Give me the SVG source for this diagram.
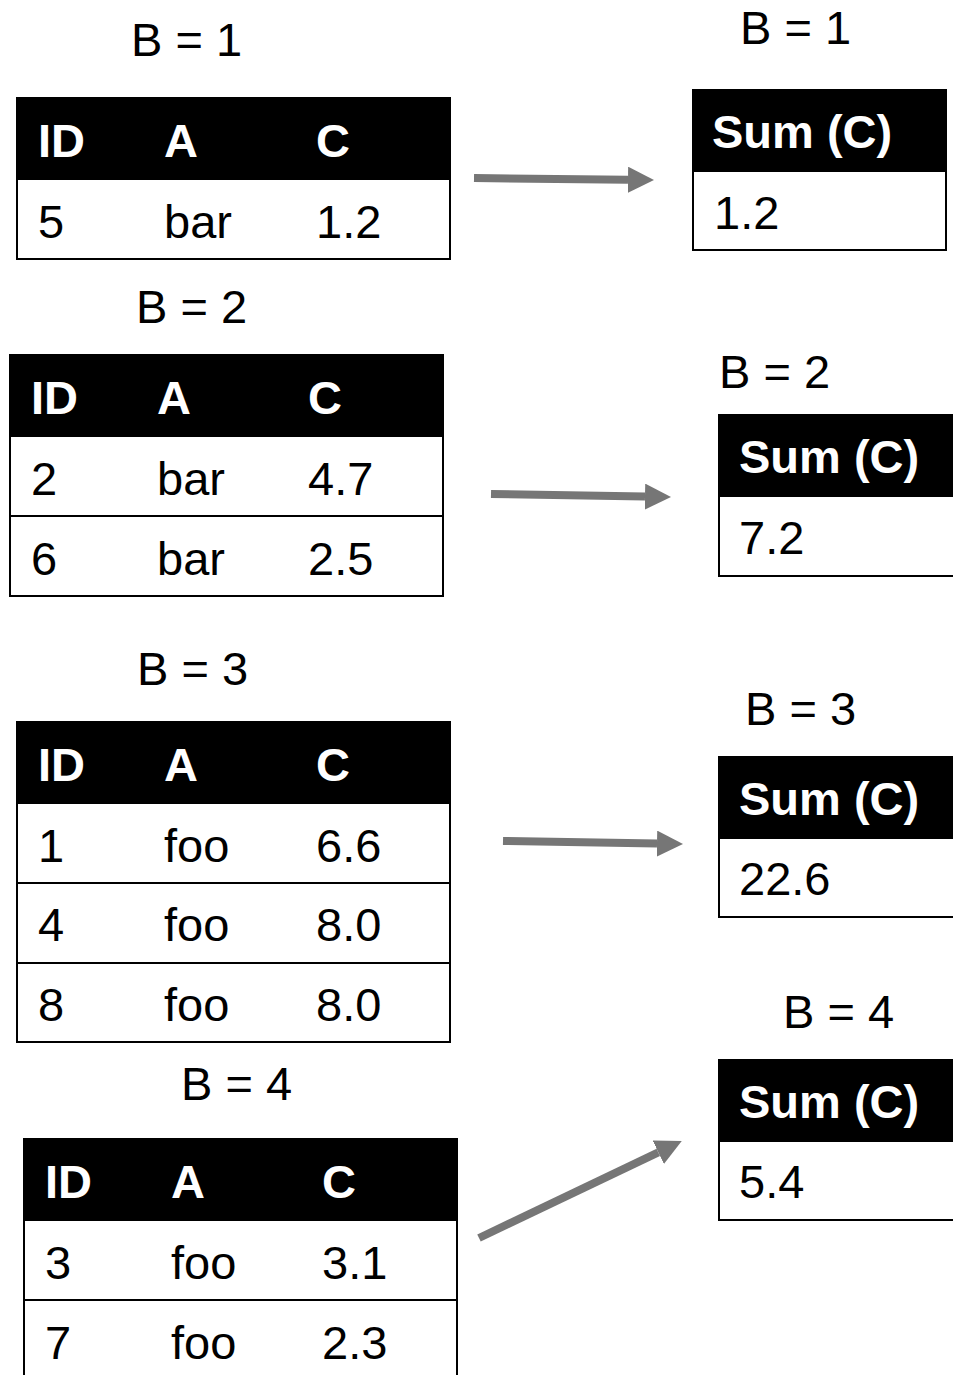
<svg xmlns="http://www.w3.org/2000/svg" width="953" height="1375" viewBox="0 0 953 1375">
<style>
.lbl{font-family:"Liberation Sans",Arial,sans-serif;font-size:47px;fill:#000}
.hd{font-family:"Liberation Sans",Arial,sans-serif;font-size:47px;font-weight:bold;fill:#fff}
.cell{font-family:"Liberation Sans",Arial,sans-serif;font-size:47px;fill:#000}
.frame{fill:#fff;stroke:#000;stroke-width:2}
.head{fill:#000}
.sep{stroke:#000;stroke-width:2}
.arrow{stroke:#767676;stroke-width:8;fill:none;marker-end:url(#ah)}
</style>
<defs>
<marker id="ah" markerUnits="userSpaceOnUse" markerWidth="26" markerHeight="26" viewBox="0 0 24 24" refX="0" refY="12" orient="auto">
<path d="M0,0 L24,12 L0,24 Z" fill="#767676"/>
</marker>
</defs>
<rect width="953" height="1375" fill="#fff"/>

<g id="label-left-b1"><text class="lbl" x="131" y="56">B = 1</text></g>
<g id="label-left-b2"><text class="lbl" x="136" y="323">B = 2</text></g>
<g id="label-left-b3"><text class="lbl" x="137" y="685">B = 3</text></g>
<g id="label-left-b4"><text class="lbl" x="181" y="1100">B = 4</text></g>
<g id="label-right-b1"><text class="lbl" x="740" y="44">B = 1</text></g>
<g id="label-right-b2"><text class="lbl" x="719" y="388">B = 2</text></g>
<g id="label-right-b3"><text class="lbl" x="745" y="725">B = 3</text></g>
<g id="label-right-b4"><text class="lbl" x="783" y="1028">B = 4</text></g>

<g id="table-b1">
<rect class="frame" x="17" y="98" width="433" height="161"/>
<rect class="head" x="17" y="98" width="433" height="82"/>
<text class="hd" x="38" y="157">ID</text><text class="hd" x="164" y="157">A</text><text class="hd" x="316" y="157">C</text>
<text class="cell" x="38" y="238">5</text><text class="cell" x="164" y="238">bar</text><text class="cell" x="316" y="238">1.2</text>
</g>

<g id="table-b2">
<rect class="frame" x="10" y="355" width="433" height="241"/>
<rect class="head" x="10" y="355" width="433" height="82"/>
<line class="sep" x1="10" y1="516" x2="443" y2="516"/>
<text class="hd" x="31" y="414">ID</text><text class="hd" x="157" y="414">A</text><text class="hd" x="308" y="414">C</text>
<text class="cell" x="31" y="495">2</text><text class="cell" x="157" y="495">bar</text><text class="cell" x="308" y="495">4.7</text>
<text class="cell" x="31" y="575">6</text><text class="cell" x="157" y="575">bar</text><text class="cell" x="308" y="575">2.5</text>
</g>

<g id="table-b3">
<rect class="frame" x="17" y="722" width="433" height="320"/>
<rect class="head" x="17" y="722" width="433" height="82"/>
<line class="sep" x1="17" y1="883" x2="450" y2="883"/>
<line class="sep" x1="17" y1="963" x2="450" y2="963"/>
<text class="hd" x="38" y="781">ID</text><text class="hd" x="164" y="781">A</text><text class="hd" x="316" y="781">C</text>
<text class="cell" x="38" y="862">1</text><text class="cell" x="164" y="862">foo</text><text class="cell" x="316" y="862">6.6</text>
<text class="cell" x="38" y="941">4</text><text class="cell" x="164" y="941">foo</text><text class="cell" x="316" y="941">8.0</text>
<text class="cell" x="38" y="1021">8</text><text class="cell" x="164" y="1021">foo</text><text class="cell" x="316" y="1021">8.0</text>
</g>

<g id="table-b4">
<rect class="frame" x="24" y="1139" width="433" height="250"/>
<rect class="head" x="24" y="1139" width="433" height="82"/>
<line class="sep" x1="24" y1="1300" x2="457" y2="1300"/>
<text class="hd" x="45" y="1198">ID</text><text class="hd" x="171" y="1198">A</text><text class="hd" x="322" y="1198">C</text>
<text class="cell" x="45" y="1279">3</text><text class="cell" x="171" y="1279">foo</text><text class="cell" x="322" y="1279">3.1</text>
<text class="cell" x="45" y="1359">7</text><text class="cell" x="171" y="1359">foo</text><text class="cell" x="322" y="1359">2.3</text>
</g>

<g id="sum-b1">
<rect class="frame" x="693" y="90" width="253" height="160"/>
<rect class="head" x="693" y="90" width="253" height="82"/>
<text class="hd" x="712" y="148">Sum (C)</text>
<text class="cell" x="714" y="229">1.2</text>
</g>

<g id="sum-b2">
<rect class="frame" x="719" y="415" width="250" height="161"/>
<rect class="head" x="719" y="415" width="250" height="82"/>
<text class="hd" x="739" y="473">Sum (C)</text>
<text class="cell" x="739" y="554">7.2</text>
</g>

<g id="sum-b3">
<rect class="frame" x="719" y="757" width="250" height="160"/>
<rect class="head" x="719" y="757" width="250" height="82"/>
<text class="hd" x="739" y="815">Sum (C)</text>
<text class="cell" x="739" y="895">22.6</text>
</g>

<g id="sum-b4">
<rect class="frame" x="719" y="1060" width="250" height="160"/>
<rect class="head" x="719" y="1060" width="250" height="82"/>
<text class="hd" x="739" y="1118">Sum (C)</text>
<text class="cell" x="739" y="1198">5.4</text>
</g>

<g id="connectors">
<line class="arrow" x1="474" y1="178" x2="628" y2="179.7"/>
<line class="arrow" x1="491" y1="494" x2="645" y2="496.6"/>
<line class="arrow" x1="503" y1="841" x2="657" y2="843.6"/>
<line class="arrow" x1="479" y1="1238" x2="658.3" y2="1152.3"/>
</g>
</svg>
